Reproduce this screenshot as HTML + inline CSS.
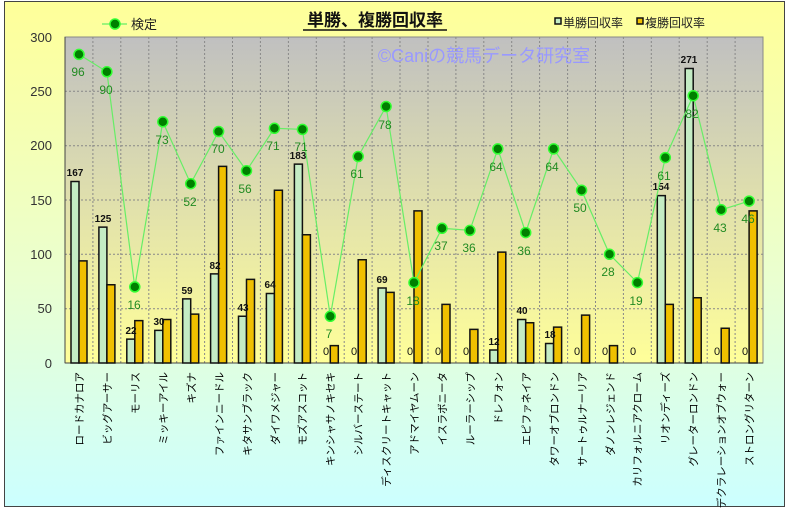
<!DOCTYPE html>
<html><head><meta charset="utf-8"><style>
body{margin:0;width:787px;height:509px;overflow:hidden;font-family:"Liberation Sans","Noto Sans CJK JP",sans-serif}
</style></head><body>
<svg width="787" height="509" xmlns="http://www.w3.org/2000/svg" font-family="Liberation Sans, Noto Sans CJK JP, sans-serif">
<defs>
<linearGradient id="bg" x1="0" y1="0" x2="0" y2="1"><stop offset="0" stop-color="#ffff99"/><stop offset="0.55" stop-color="#eaffd0"/><stop offset="1" stop-color="#ccffff"/></linearGradient>
<linearGradient id="pl" x1="0" y1="0" x2="0" y2="1"><stop offset="0" stop-color="#c0c0c0"/><stop offset="1" stop-color="#ffff99"/></linearGradient>
</defs>
<rect x="4.5" y="1.5" width="780" height="505" fill="url(#bg)" stroke="#444" stroke-width="1"/>
<rect x="65" y="37" width="698" height="326" fill="url(#pl)"/>
<g stroke="#888" stroke-dasharray="2,2" stroke-width="1">
<line x1="65" x2="763" y1="91.3" y2="91.3"/><line x1="65" x2="763" y1="145.7" y2="145.7"/><line x1="65" x2="763" y1="200" y2="200"/><line x1="65" x2="763" y1="254.3" y2="254.3"/><line x1="65" x2="763" y1="308.7" y2="308.7"/>
<line x1="92.9" x2="92.9" y1="37" y2="363"/><line x1="120.8" x2="120.8" y1="37" y2="363"/><line x1="148.8" x2="148.8" y1="37" y2="363"/><line x1="176.7" x2="176.7" y1="37" y2="363"/><line x1="204.6" x2="204.6" y1="37" y2="363"/><line x1="232.5" x2="232.5" y1="37" y2="363"/><line x1="260.4" x2="260.4" y1="37" y2="363"/><line x1="288.4" x2="288.4" y1="37" y2="363"/><line x1="316.3" x2="316.3" y1="37" y2="363"/><line x1="344.2" x2="344.2" y1="37" y2="363"/><line x1="372.1" x2="372.1" y1="37" y2="363"/><line x1="400" x2="400" y1="37" y2="363"/><line x1="428" x2="428" y1="37" y2="363"/><line x1="455.9" x2="455.9" y1="37" y2="363"/><line x1="483.8" x2="483.8" y1="37" y2="363"/><line x1="511.7" x2="511.7" y1="37" y2="363"/><line x1="539.6" x2="539.6" y1="37" y2="363"/><line x1="567.6" x2="567.6" y1="37" y2="363"/><line x1="595.5" x2="595.5" y1="37" y2="363"/><line x1="623.4" x2="623.4" y1="37" y2="363"/><line x1="651.3" x2="651.3" y1="37" y2="363"/><line x1="679.2" x2="679.2" y1="37" y2="363"/><line x1="707.2" x2="707.2" y1="37" y2="363"/><line x1="735.1" x2="735.1" y1="37" y2="363"/>
</g>
<rect x="65" y="37" width="698" height="326" fill="none" stroke="#888"/>
<line x1="65" y1="37" x2="65" y2="363" stroke="#444"/><line x1="65" y1="363" x2="763" y2="363" stroke="#444"/>
<g font-size="13" fill="#333" text-anchor="end">
<text x="52" y="42">300</text><text x="52" y="96">250</text><text x="52" y="150">200</text><text x="52" y="205">150</text><text x="52" y="259">100</text><text x="52" y="313">50</text><text x="52" y="368">0</text>
</g>
<text x="484" y="62" font-size="18" fill="#9999ff" text-anchor="middle">©Caniの競馬データ研究室</text>
<g transform="translate(0,363) scale(1,-1.08667)" stroke="#111" stroke-width="1.5">
<g fill="#c4ecc4">
<rect vector-effect="non-scaling-stroke" x="71" y="0" width="8" height="167"/>
<rect vector-effect="non-scaling-stroke" x="98.9" y="0" width="8" height="125"/>
<rect vector-effect="non-scaling-stroke" x="126.8" y="0" width="8" height="22"/>
<rect vector-effect="non-scaling-stroke" x="154.8" y="0" width="8" height="30"/>
<rect vector-effect="non-scaling-stroke" x="182.7" y="0" width="8" height="59"/>
<rect vector-effect="non-scaling-stroke" x="210.6" y="0" width="8" height="82"/>
<rect vector-effect="non-scaling-stroke" x="238.5" y="0" width="8" height="43"/>
<rect vector-effect="non-scaling-stroke" x="266.4" y="0" width="8" height="64"/>
<rect vector-effect="non-scaling-stroke" x="294.4" y="0" width="8" height="183"/>
<rect vector-effect="non-scaling-stroke" x="378.1" y="0" width="8" height="69"/>
<rect vector-effect="non-scaling-stroke" x="489.8" y="0" width="8" height="12"/>
<rect vector-effect="non-scaling-stroke" x="517.7" y="0" width="8" height="40"/>
<rect vector-effect="non-scaling-stroke" x="545.6" y="0" width="8" height="18"/>
<rect vector-effect="non-scaling-stroke" x="657.3" y="0" width="8" height="154"/>
<rect vector-effect="non-scaling-stroke" x="685.2" y="0" width="8" height="271"/>
</g>
<g fill="#f0c000">
<rect vector-effect="non-scaling-stroke" x="79" y="0" width="8" height="94"/>
<rect vector-effect="non-scaling-stroke" x="106.9" y="0" width="8" height="72"/>
<rect vector-effect="non-scaling-stroke" x="134.8" y="0" width="8" height="39"/>
<rect vector-effect="non-scaling-stroke" x="162.8" y="0" width="8" height="40"/>
<rect vector-effect="non-scaling-stroke" x="190.7" y="0" width="8" height="45"/>
<rect vector-effect="non-scaling-stroke" x="218.6" y="0" width="8" height="181"/>
<rect vector-effect="non-scaling-stroke" x="246.5" y="0" width="8" height="77"/>
<rect vector-effect="non-scaling-stroke" x="274.4" y="0" width="8" height="159"/>
<rect vector-effect="non-scaling-stroke" x="302.4" y="0" width="8" height="118"/>
<rect vector-effect="non-scaling-stroke" x="330.3" y="0" width="8" height="16"/>
<rect vector-effect="non-scaling-stroke" x="358.2" y="0" width="8" height="95"/>
<rect vector-effect="non-scaling-stroke" x="386.1" y="0" width="8" height="65"/>
<rect vector-effect="non-scaling-stroke" x="414" y="0" width="8" height="140"/>
<rect vector-effect="non-scaling-stroke" x="442" y="0" width="8" height="54"/>
<rect vector-effect="non-scaling-stroke" x="469.9" y="0" width="8" height="31"/>
<rect vector-effect="non-scaling-stroke" x="497.8" y="0" width="8" height="102"/>
<rect vector-effect="non-scaling-stroke" x="525.7" y="0" width="8" height="37"/>
<rect vector-effect="non-scaling-stroke" x="553.6" y="0" width="8" height="33"/>
<rect vector-effect="non-scaling-stroke" x="581.6" y="0" width="8" height="44"/>
<rect vector-effect="non-scaling-stroke" x="609.5" y="0" width="8" height="16"/>
<rect vector-effect="non-scaling-stroke" x="665.3" y="0" width="8" height="54"/>
<rect vector-effect="non-scaling-stroke" x="693.2" y="0" width="8" height="60"/>
<rect vector-effect="non-scaling-stroke" x="721.2" y="0" width="8" height="32"/>
<rect vector-effect="non-scaling-stroke" x="749.1" y="0" width="8" height="140"/>
</g>
</g>
<g font-size="10" font-weight="bold" fill="#111" text-anchor="middle">
<text x="75" y="176">167</text><text x="103" y="222">125</text><text x="131" y="334">22</text><text x="159" y="325">30</text><text x="187" y="294">59</text><text x="215" y="269">82</text><text x="243" y="311">43</text><text x="270" y="288">64</text><text x="298" y="159">183</text><text x="382" y="283">69</text><text x="494" y="345">12</text><text x="522" y="314">40</text><text x="550" y="338">18</text><text x="661" y="190">154</text><text x="689" y="63">271</text>
<g font-weight="normal" font-size="11"><text x="326" y="355">0</text><text x="354" y="355">0</text><text x="410" y="355">0</text><text x="438" y="355">0</text><text x="466" y="355">0</text><text x="577" y="355">0</text><text x="605" y="355">0</text><text x="633" y="355">0</text><text x="717" y="355">0</text><text x="745" y="355">0</text></g>
</g>
<polyline fill="none" stroke="#66ee66" stroke-width="1.2" points="79,54.4 106.9,71.8 134.8,286.9 162.8,121.8 190.7,183.7 218.6,131.5 246.5,170.7 274.4,128.3 302.4,129.4 330.3,316.3 358.2,156.5 386.1,106.5 414,282.6 442,228.3 469.9,230.4 497.8,148.9 525.7,232.6 553.6,148.9 581.6,190.2 609.5,254.3 637.4,282.6 665.3,157.6 693.2,95.7 721.2,209.8 749.1,201.1"/>
<g fill="#008000" stroke="#33ff33" stroke-width="1.5">
<circle cx="79" cy="54.4" r="5"/><circle cx="106.9" cy="71.8" r="5"/><circle cx="134.8" cy="286.9" r="5"/><circle cx="162.8" cy="121.8" r="5"/><circle cx="190.7" cy="183.7" r="5"/><circle cx="218.6" cy="131.5" r="5"/><circle cx="246.5" cy="170.7" r="5"/><circle cx="274.4" cy="128.3" r="5"/><circle cx="302.4" cy="129.4" r="5"/><circle cx="330.3" cy="316.3" r="5"/><circle cx="358.2" cy="156.5" r="5"/><circle cx="386.1" cy="106.5" r="5"/><circle cx="414" cy="282.6" r="5"/><circle cx="442" cy="228.3" r="5"/><circle cx="469.9" cy="230.4" r="5"/><circle cx="497.8" cy="148.9" r="5"/><circle cx="525.7" cy="232.6" r="5"/><circle cx="553.6" cy="148.9" r="5"/><circle cx="581.6" cy="190.2" r="5"/><circle cx="609.5" cy="254.3" r="5"/><circle cx="637.4" cy="282.6" r="5"/><circle cx="665.3" cy="157.6" r="5"/><circle cx="693.2" cy="95.7" r="5"/><circle cx="721.2" cy="209.8" r="5"/><circle cx="749.1" cy="201.1" r="5"/>
</g>
<g font-size="12" fill="#228b22" text-anchor="middle">
<text x="78" y="76">96</text><text x="106" y="94">90</text><text x="134" y="309">16</text><text x="162" y="144">73</text><text x="190" y="206">52</text><text x="218" y="153">70</text><text x="245" y="193">56</text><text x="273" y="150">71</text><text x="301" y="151">71</text><text x="329" y="338">7</text><text x="357" y="178">61</text><text x="385" y="129">78</text><text x="413" y="305">18</text><text x="441" y="250">37</text><text x="469" y="252">36</text><text x="496" y="171">64</text><text x="524" y="255">36</text><text x="552" y="171">64</text><text x="580" y="212">50</text><text x="608" y="276">28</text><text x="636" y="305">19</text><text x="664" y="180">61</text><text x="692" y="118">82</text><text x="720" y="232">43</text><text x="748" y="223">46</text>
</g>
<g font-size="10.5" fill="#000" text-anchor="end">
<text transform="translate(83,372) rotate(-90)">ロードカナロア</text>
<text transform="translate(111,372) rotate(-90)">ビッグアーサー</text>
<text transform="translate(139,372) rotate(-90)">モーリス</text>
<text transform="translate(167,372) rotate(-90)">ミッキーアイル</text>
<text transform="translate(195,372) rotate(-90)">キズナ</text>
<text transform="translate(223,372) rotate(-90)">ファインニードル</text>
<text transform="translate(251,372) rotate(-90)">キタサンブラック</text>
<text transform="translate(279,372) rotate(-90)">ダイワメジャー</text>
<text transform="translate(306,372) rotate(-90)">モズアスコット</text>
<text transform="translate(334,372) rotate(-90)">キンシャサノキセキ</text>
<text transform="translate(362,372) rotate(-90)">シルバーステート</text>
<text transform="translate(390,372) rotate(-90)">ディスクリートキャット</text>
<text transform="translate(418,372) rotate(-90)">アドマイヤムーン</text>
<text transform="translate(446,372) rotate(-90)">イスラボニータ</text>
<text transform="translate(474,372) rotate(-90)">ルーラーシップ</text>
<text transform="translate(502,372) rotate(-90)">ドレフォン</text>
<text transform="translate(530,372) rotate(-90)">エピファネイア</text>
<text transform="translate(558,372) rotate(-90)">タワーオブロンドン</text>
<text transform="translate(586,372) rotate(-90)">サートゥルナーリア</text>
<text transform="translate(614,372) rotate(-90)">ダノンレジェンド</text>
<text transform="translate(641,372) rotate(-90)">カリフォルニアクローム</text>
<text transform="translate(669,372) rotate(-90)">リオンディーズ</text>
<text transform="translate(697,372) rotate(-90)">グレーターロンドン</text>
<text transform="translate(725,372) rotate(-90)">デクラレーションオブウォー</text>
<text transform="translate(753,372) rotate(-90)">ストロングリターン</text>
</g>
<text x="375" y="26" font-size="17" font-weight="bold" text-anchor="middle" fill="#111">単勝、複勝回収率</text>
<line x1="303" y1="30" x2="447" y2="30" stroke="#111" stroke-width="1.5"/>
<line x1="102" y1="24" x2="127" y2="24" stroke="#66ee66" stroke-width="1.2"/>
<circle cx="115" cy="24" r="5" fill="#008000" stroke="#33ff33" stroke-width="1.5"/>
<text x="131" y="29" font-size="13" fill="#222">検定</text>
<rect x="555" y="18" width="6" height="6" fill="#c4ecc4" stroke="#111" stroke-width="1.5"/>
<text x="563" y="27" font-size="12" fill="#222">単勝回収率</text>
<rect x="637" y="18" width="6" height="6" fill="#f0c000" stroke="#111" stroke-width="1.5"/>
<text x="645" y="27" font-size="12" fill="#222">複勝回収率</text>
</svg>
</body></html>
